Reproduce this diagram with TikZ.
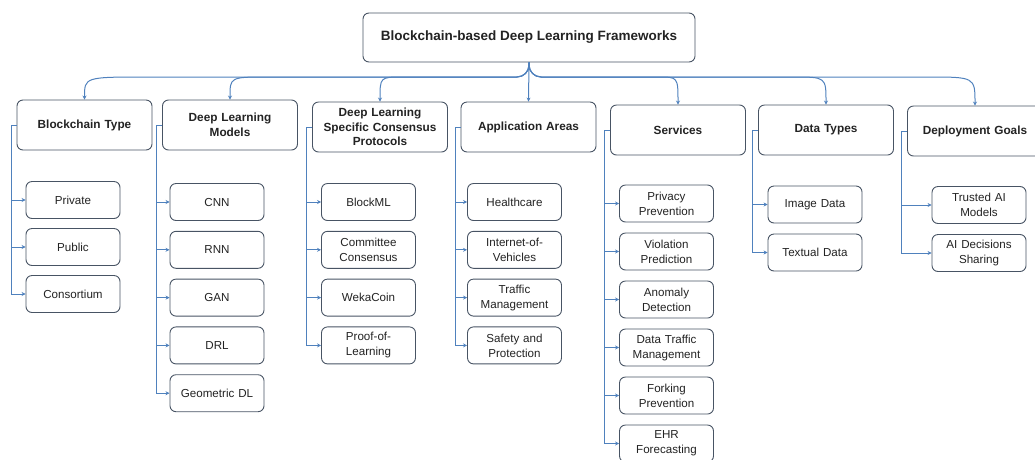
\documentclass[tikz,border=0pt]{standalone}
\usepackage{fontspec}
\setmainfont{Liberation Sans}
\usetikzlibrary{arrows.meta, calc}

\definecolor{boxline}{RGB}{72,84,100}
\definecolor{linkblue}{RGB}{79,129,189}
\definecolor{inkgray}{RGB}{35,35,35}

\begin{document}
\begin{tikzpicture}[x=1pt, y=-1pt,
    rootbox/.style={draw=boxline, line width=0.9pt, rounded corners=6pt, fill=white,
        minimum width=332pt, minimum height=49pt, text=inkgray,
        font=\fontsize{13.5}{16}\selectfont\bfseries},
    catbox/.style={draw=boxline, line width=0.9pt, rounded corners=6pt, fill=white,
        minimum width=135pt, minimum height=50pt, text width=129pt, align=center,
        inner sep=3pt, text=inkgray, font=\fontsize{11.8}{14.5}\selectfont\bfseries},
    leafbox/.style={draw=boxline, line width=0.9pt, rounded corners=6pt, fill=white,
        minimum width=94pt, minimum height=37pt, text width=90pt, align=center,
        inner xsep=2pt, inner ysep=1pt, text=inkgray, font=\fontsize{11.6}{15}\selectfont},
    link/.style={draw=linkblue, line width=1pt, -{Stealth[length=4pt,width=4pt]}}]

    \useasboundingbox (0,0) rectangle (1035,459);

    % Root
    \node[rootbox] (root) at (529,37.5) {Blockchain-based Deep Learning Frameworks};
    \coordinate (hub) at (529,77);

    % Categories
    \node[catbox] (type) at (84.5,125) {Blockchain Type};
    \node[catbox] (models) at (230,125) {Deep Learning\\Models};
    \node[catbox] (consensus) at (380,127) {Deep Learning\\Specific Consensus\\Protocols};
    \node[catbox] (apps) at (528.5,127) {Application Areas};
    \node[catbox] (services) at (678,130) {Services};
    \node[catbox] (data) at (826,130) {Data Types};
    \node[catbox] (goals) at (975,131) {Deployment Goals};

    % Root to categories
    \draw[link] (root.south) -- (apps.north);
    \foreach \cat/\dx in {type/75,models/50,consensus/35,services/-32,data/-45,goals/-60} {
        \draw[link, rounded corners=12pt] (root.south) |- ($(hub -| \cat.north)+(\dx,0)$)
            [sharp corners] .. controls (hub -| \cat.north) .. (\cat.north);
    }

    % Blockchain type
    \foreach \lab [count=\i] in {Private,Public,Consortium} {
        \node[leafbox] (type-\i) at (73,{200+47*(\i-1)}) {\lab};
        \draw[link] (type.west) -- ++(-5.5,0) |- (type-\i.west);
    }

    % Deep learning models
    \foreach \lab [count=\i] in {CNN,RNN,GAN,DRL,Geometric DL} {
        \node[leafbox] (models-\i) at (217,{202+47.8*(\i-1)}) {\lab};
        \draw[link] (models.west) -- ++(-5.5,0) |- (models-\i.west);
    }

    % Consensus protocols
    \foreach \lab [count=\i] in {BlockML,{Committee\\Consensus},WekaCoin,{Proof-of-\\Learning}} {
        \node[leafbox] (consensus-\i) at (368.5,{202+47.8*(\i-1)}) {\lab};
        \draw[link] (consensus.west) -- ++(-5.5,0) |- (consensus-\i.west);
    }

    % Application areas
    \foreach \lab [count=\i] in {Healthcare,{Internet-of-\\Vehicles},{Traffic\\Management},{Safety and\\Protection}} {
        \node[leafbox] (apps-\i) at (514.5,{202+47.8*(\i-1)}) {\lab};
        \draw[link] (apps.west) -- ++(-5.5,0) |- (apps-\i.west);
    }

    % Services
    \foreach \lab [count=\i] in {{Privacy\\Prevention},{Violation\\Prediction},{Anomaly\\Detection},{Data Traffic\\Management},{Forking\\Prevention},{EHR\\Forecasting}} {
        \node[leafbox] (services-\i) at (666.5,{203.5+48*(\i-1)}) {\lab};
        \draw[link] (services.west) -- ++(-5.5,0) |- (services-\i.west);
    }

    % Data types
    \foreach \lab [count=\i] in {Image Data,Textual Data} {
        \node[leafbox] (data-\i) at (815,{204.5+48*(\i-1)}) {\lab};
        \draw[link] (data.west) -- ++(-5.5,0) |- (data-\i.west);
    }

    % Deployment goals
    \foreach \lab [count=\i] in {{Trusted AI\\Models},{AI Decisions\\Sharing}} {
        \node[leafbox] (goals-\i) at (979,{205+48*(\i-1)}) {\lab};
        \draw[link] (goals.west) -- ++(-5.5,0) |- (goals-\i.west);
    }
\end{tikzpicture}
\end{document}
